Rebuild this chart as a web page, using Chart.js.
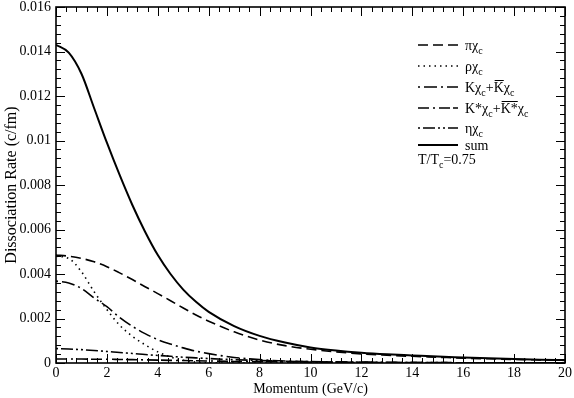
<!DOCTYPE html>
<html>
<head>
<meta charset="utf-8">
<title>Dissociation Rate vs Momentum</title>
<script src="https://cdn.jsdelivr.net/npm/chart.js@4.4.1/dist/chart.umd.min.js"></script>
<style>
  html, body { margin: 0; padding: 0; background: #fff; }
  canvas { display: block; }
</style>
</head>
<body>
<canvas id="chart" width="574" height="398"></canvas>
<script>
// Momentum grid (GeV/c)
const momentum = [0, 0.5, 1, 1.5, 2, 2.5, 3, 3.5, 4, 4.5, 5, 5.5, 6, 7, 8, 9, 10, 11, 12, 13, 14, 15, 16, 17, 18, 19, 20];

// Dissociation rates (c/fm)
const piChi    = [0.00485, 0.00480, 0.00470, 0.00455, 0.00433, 0.00405, 0.00375, 0.00343, 0.00312, 0.00280, 0.00247, 0.00216, 0.00188, 0.00140, 0.00103, 0.00078, 0.00062, 0.00050, 0.00041, 0.00035, 0.00030, 0.00026, 0.00022, 0.00019, 0.00016, 0.00014, 0.00012];
const rhoChi   = [0.00480, 0.00470, 0.00410, 0.00320, 0.00240, 0.00170, 0.00120, 0.00082, 0.00050, 0.00027, 0.00012, 0.00004, 0.00001, 0, 0, 0, 0, 0, 0, 0, 0, 0, 0, 0, 0, 0, 0];
const kChi     = [0.00368, 0.00360, 0.00335, 0.00292, 0.00253, 0.00205, 0.00165, 0.00132, 0.00105, 0.00085, 0.00068, 0.00053, 0.00042, 0.00025, 0.00015, 0.00009, 0.00006, 0.00004, 0.00003, 0.00002, 0.00002, 0.00001, 0.00001, 0.00001, 0.00001, 0, 0];
const kStarChi = [0.00018, 0.00018, 0.00018, 0.00017, 0.00017, 0.00016, 0.00015, 0.00014, 0.00013, 0.00012, 0.00011, 0.00010, 0.00009, 0.00007, 0.00006, 0.00005, 0.00004, 0.00003, 0.00003, 0.00002, 0.00002, 0.00002, 0.00001, 0.00001, 0.00001, 0.00001, 0.00001];
const etaChi   = [0.00065, 0.00063, 0.00060, 0.00056, 0.00052, 0.00047, 0.00043, 0.00038, 0.00034, 0.00030, 0.00026, 0.00023, 0.00020, 0.00015, 0.00011, 0.00008, 0.00006, 0.00005, 0.00004, 0.00003, 0.00002, 0.00002, 0.00001, 0.00001, 0.00001, 0.00001, 0];
const sumChi   = [0.01430, 0.01395, 0.01300, 0.01145, 0.00990, 0.00845, 0.00710, 0.00590, 0.00485, 0.00400, 0.00330, 0.00275, 0.00230, 0.00166, 0.00122, 0.00092, 0.00070, 0.00056, 0.00046, 0.00039, 0.00034, 0.00029, 0.00025, 0.00021, 0.00018, 0.00015, 0.00013];

// Tick values for the axes
const xTickValues = [0, 2, 4, 6, 8, 10, 12, 14, 16, 18, 20];
const yTickValues = [0, 0.002, 0.004, 0.006, 0.008, 0.01, 0.012, 0.014, 0.016];

const SERIF = '"Liberation Serif", "Times New Roman", serif';

// helper: turn two arrays into {x, y} points
function toPoints(xs, ys) {
  return xs.map((x, i) => ({ x: x, y: ys[i] }));
}

// Legend rows: each label is a list of text runs (sub = subscript, bar = overline)
const legendRows = [
  { dash: [10, 5], width: 1.6, y: 45, label: [{ t: 'πχ' }, { t: 'c', sub: true }] },
  { dash: [1.5, 4], width: 1.6, y: 66, label: [{ t: 'ρχ' }, { t: 'c', sub: true }] },
  { dash: [2, 4, 13, 4], width: 1.6, y: 87, label: [{ t: 'Kχ' }, { t: 'c', sub: true }, { t: '+' }, { t: 'K', bar: true }, { t: 'χ' }, { t: 'c', sub: true }] },
  { dash: [11, 4, 2, 4, 11, 3], width: 1.6, y: 108, label: [{ t: 'K*χ' }, { t: 'c', sub: true }, { t: '+' }, { t: 'K*', bar: true }, { t: 'χ' }, { t: 'c', sub: true }] },
  { dash: [2, 3, 12, 3, 2, 3], width: 1.6, y: 128, label: [{ t: 'ηχ' }, { t: 'c', sub: true }] },
  { dash: [], width: 2, y: 145, label: [{ t: 'sum' }] }
];

function drawRich(ctx, x, y, parts) {
  parts.forEach(p => {
    ctx.font = (p.sub ? '10px ' : '14px ') + SERIF;
    ctx.fillText(p.t, x, y + (p.sub ? 4 : 0));
    const w = ctx.measureText(p.t).width;
    if (p.bar) {
      ctx.lineWidth = 1;
      ctx.setLineDash([]);
      ctx.beginPath();
      ctx.moveTo(x + 1, y - 11.5);
      ctx.lineTo(x + w, y - 11.5);
      ctx.stroke();
    }
    x += w;
  });
}

// Frame, inward ticks on all four sides, and the legend
const framePlugin = {
  id: 'frame',
  afterDraw(chart) {
    const ctx = chart.ctx;
    const a = chart.chartArea;
    const xs = chart.scales.x;
    const ys = chart.scales.y;
    ctx.save();
    ctx.strokeStyle = '#000';
    ctx.fillStyle = '#000';
    ctx.setLineDash([]);
    ctx.lineWidth = 1;

    // x ticks: major every 2, minor every 0.4
    for (let i = 0; i <= 50; i++) {
      const v = i * 0.4;
      const px = Math.round(xs.getPixelForValue(v)) + 0.5;
      const len = (i % 5 === 0) ? 9 : 5;
      ctx.beginPath();
      ctx.moveTo(px, a.bottom); ctx.lineTo(px, a.bottom - len);
      ctx.moveTo(px, a.top); ctx.lineTo(px, a.top + len);
      ctx.stroke();
    }
    // y ticks: major every 0.002, minor every 0.0004
    for (let i = 0; i <= 40; i++) {
      const v = i * 0.0004;
      const py = Math.round(ys.getPixelForValue(v)) + 0.5;
      const len = (i % 5 === 0) ? 9 : 5;
      ctx.beginPath();
      ctx.moveTo(a.left, py); ctx.lineTo(a.left + len, py);
      ctx.moveTo(a.right, py); ctx.lineTo(a.right - len, py);
      ctx.stroke();
    }

    // frame
    ctx.lineWidth = 1.6;
    ctx.strokeRect(a.left, a.top, a.right - a.left, a.bottom - a.top);

    // legend
    ctx.textBaseline = 'alphabetic';
    ctx.textAlign = 'left';
    legendRows.forEach(row => {
      ctx.lineWidth = row.width;
      ctx.setLineDash(row.dash);
      ctx.beginPath();
      ctx.moveTo(418, row.y);
      ctx.lineTo(458, row.y);
      ctx.stroke();
      drawRich(ctx, 465, row.y + 5, row.label);
    });
    drawRich(ctx, 418, 164, [{ t: 'T/T' }, { t: 'c', sub: true }, { t: '=0.75' }]);
    ctx.restore();
  }
};

function makeSet(label, ys, dash, width) {
  return {
    label: label,
    data: toPoints(momentum, ys),
    borderColor: '#000',
    borderWidth: width,
    borderDash: dash,
    pointRadius: 0,
    fill: false,
    cubicInterpolationMode: 'monotone'
  };
}

const ctx = document.getElementById('chart').getContext('2d');
new Chart(ctx, {
  type: 'line',
  data: {
    datasets: [
      makeSet('πχc', piChi, [10, 5], 1.6),
      makeSet('ρχc', rhoChi, [1.5, 4], 1.6),
      makeSet('Kχc+K̄χc', kChi, [2, 4, 13, 4], 1.6),
      makeSet('K*χc+K̄*χc', kStarChi, [11, 4, 2, 4, 11, 3], 1.6),
      makeSet('ηχc', etaChi, [2, 3, 12, 3, 2, 3], 1.6),
      makeSet('sum', sumChi, [], 2)
    ]
  },
  options: {
    responsive: false,
    animation: false,
    devicePixelRatio: 1,
    layout: { padding: { top: 7, right: 9, left: 0, bottom: 0 } },
    plugins: {
      legend: { display: false },
      tooltip: { enabled: false }
    },
    scales: {
      x: {
        type: 'linear',
        min: 0,
        max: 20,
        grid: { display: false, drawTicks: false },
        border: { display: false },
        afterBuildTicks: s => { s.ticks = xTickValues.map(v => ({ value: v })); },
        afterFit: s => { s.height = 35; s.paddingLeft = 0; s.paddingRight = 0; },
        ticks: {
          color: '#000',
          padding: 2,
          maxRotation: 0,
          font: { family: SERIF, size: 14 },
          callback: v => String(v)
        },
        title: {
          display: true,
          text: 'Momentum (GeV/c)',
          color: '#000',
          font: { family: SERIF, size: 14 },
          padding: { top: 0, bottom: 0 }
        }
      },
      y: {
        min: 0,
        max: 0.016,
        grid: { display: false, drawTicks: false },
        border: { display: false },
        afterBuildTicks: s => { s.ticks = yTickValues.map(v => ({ value: v })); },
        afterFit: s => { s.width = 56; s.paddingTop = 0; s.paddingBottom = 0; },
        ticks: {
          color: '#000',
          padding: 5,
          font: { family: SERIF, size: 14 },
          callback: v => (v === 0 ? '0' : String(+v.toFixed(3)))
        },
        title: {
          display: true,
          text: 'Dissociation Rate (c/fm)',
          color: '#000',
          font: { family: SERIF, size: 16 },
          padding: { top: 2, bottom: 2 }
        }
      }
    }
  },
  plugins: [framePlugin]
});
</script>
</body>
</html>
